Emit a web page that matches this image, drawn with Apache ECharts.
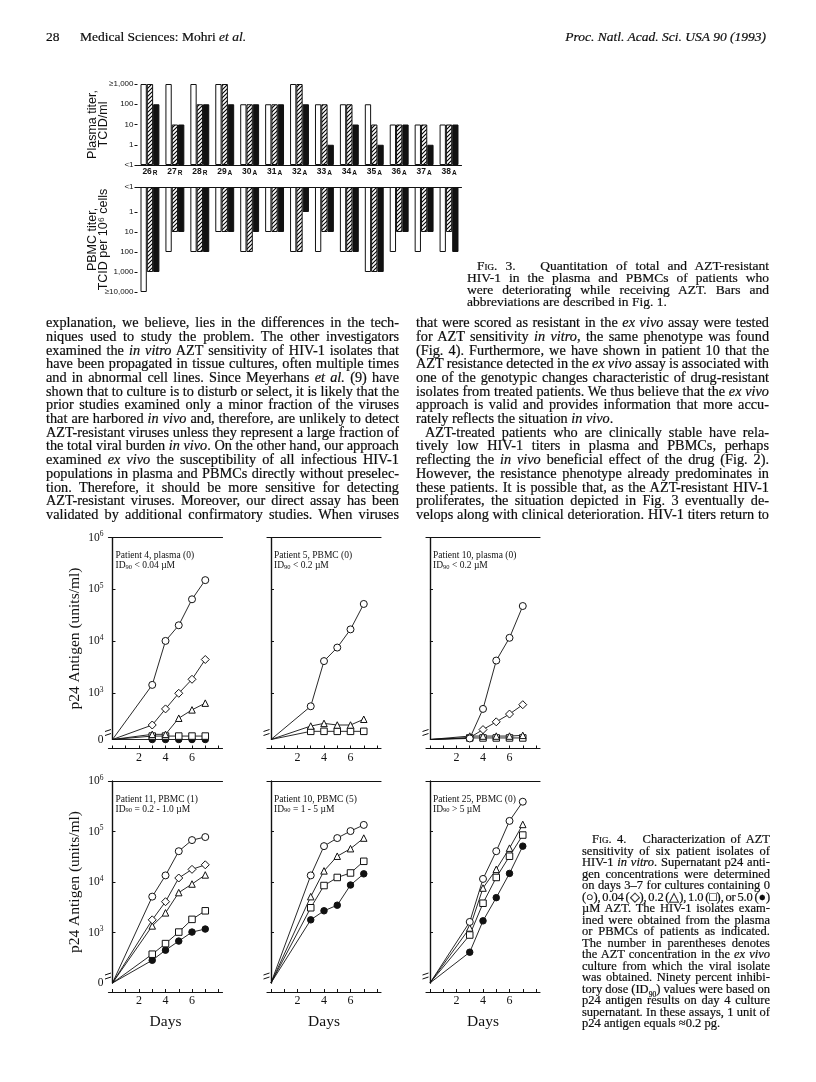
<!DOCTYPE html>
<html><head><meta charset="utf-8">
<script src="https://cdn.jsdelivr.net/npm/echarts@6.0.0/dist/echarts.min.js"></script>
<style>
html,body{margin:0;padding:0;background:#fff;}
#page{position:relative;width:816px;height:1082px;overflow:hidden;background:#fff;}
#chart{position:absolute;left:0;top:0;width:816px;height:1082px;}
.t{position:absolute;font-family:"Liberation Serif","Times New Roman",serif;color:#0d0d0d;white-space:nowrap;-webkit-text-stroke:0.2px #0d0d0d;}
.t span.in{white-space:nowrap;}
.sc{font-variant:small-caps;}
#meas{position:absolute;left:-3000px;top:0;white-space:nowrap;font-family:"Liberation Serif","Times New Roman",serif;}
</style></head><body><div id="page"><div id="chart"></div><div id="txt"></div></div><span id="meas"></span>
<script>
// ---------------- Fig. 3 data ----------------
const fig3Patients = ['26','27','28','29','30','31','32','33','34','35','36','37','38'];
const fig3Groups   = ['R','R','R','A','A','A','A','A','A','A','A','A','A'];
const plasmaTickLabels = ['<1','1','10','100','\u22651,000'];
const pbmcTickLabels   = ['<1','1','10','100','1,000','\u226510,000'];
// TCID/ml
const plasmaOpen    = [1000,1000,1000,1000,100,100,1000,100,100,100,10,10,10];
const plasmaHatched = [1000,10,100,1000,100,100,1000,100,100,10,10,10,10];
const plasmaSolid   = [100,10,100,100,100,100,100,1,10,1,10,1,10];
// TCID per 10^6 cells
const pbmcOpen    = [10000,100,100,10,100,10,100,100,100,1000,100,100,100];
const pbmcHatched = [1000,10,100,10,100,10,100,10,100,1000,10,10,10];
const pbmcSolid   = [1000,10,100,10,10,10,1,10,100,1000,10,10,100];

// ---------------- Fig. 4 data (p24 antigen, units/ml; 0 = below break) ----------------
const days = [0,3,4,5,6,7];
const fig4DecadeExponents = [3,4,5,6];
const pt4Plasma_c0   = [0,1450,10200,20400,64600,151000];
const pt4Plasma_c004 = [0,245,500,1000,1860,4470];
const pt4Plasma_c02  = [0,162,162,331,479,646];
const pt4Plasma_c1   = [0,150,150,150,150,150];
const pt4Plasma_c5   = [0,0,0,0,0,0];

const pt5Pbmc_c0  = [0,562,4170,7590,17000,52500];
const pt5Pbmc_c02 = [0,234,263,245,245,316];
const pt5Pbmc_c1  = [0,185,185,185,185,185];

const pt10Plasma_c0   = [0,135,500,4270,11700,47900];
const pt10Plasma_c004 = [0,140,200,282,398,603];
const pt10Plasma_c02  = [0,150,150,150,150,155];
const pt10Plasma_c1   = [0,138,138,138,138,138];

const pt11Pbmc_c0   = [0,5130,13500,40700,67600,77600];
const pt11Pbmc_c004 = [0,1780,4070,12000,17800,21900];
const pt11Pbmc_c02  = [0,1350,2450,6170,9120,13800];
const pt11Pbmc_c1   = [0,372,603,1020,1820,2690];
const pt11Pbmc_c5   = [0,282,447,676,1020,1170];

const pt10Pbmc_c0  = [0,13500,51300,74100,102000,135000];
const pt10Pbmc_c02 = [0,5130,16600,32400,45700,74100];
const pt10Pbmc_c1  = [0,3090,8510,12300,15100,25700];
const pt10Pbmc_c5  = [0,1780,2690,3470,8710,14500];

const pt25Pbmc_c0  = [0,1620,11500,40700,162000,389000];
const pt25Pbmc_c02 = [0,1230,7590,17800,46800,138000];
const pt25Pbmc_c1  = [0,891,3800,12300,32400,85100];
const pt25Pbmc_c5  = [0,407,1700,4900,14800,51300];

const panelTitles = [
  ['Patient 4, plasma (0)','< 0.04 \u00b5M'],
  ['Patient 5, PBMC (0)','< 0.2 \u00b5M'],
  ['Patient 10, plasma (0)','< 0.2 \u00b5M'],
  ['Patient 11, PBMC (1)','= 0.2 - 1.0 \u00b5M'],
  ['Patient 10, PBMC (5)','= 1 - 5 \u00b5M'],
  ['Patient 25, PBMC (0)','> 5 \u00b5M']
];

// ---------------- layout / styles ----------------
const SANS = '"Liberation Sans", Arial, sans-serif';
const SERIF = '"Liberation Serif", "Times New Roman", serif';
const INK = '#111';

const conc = {
  c0:   {symbol:'circle',   size:7,   fill:'#fff'},
  c004: {symbol:'diamond',  size:8,   fill:'#fff'},
  c02:  {symbol:'triangle', size:6.5, fill:'#fff'},
  c1:   {symbol:'rect',     size:6.5, fill:'#fff'},
  c5:   {symbol:'circle',   size:6.5, fill:INK}
};
const panels = [
  {row:0,col:0,series:{c0:pt4Plasma_c0,c004:pt4Plasma_c004,c02:pt4Plasma_c02,c1:pt4Plasma_c1,c5:pt4Plasma_c5}},
  {row:0,col:1,series:{c0:pt5Pbmc_c0,c02:pt5Pbmc_c02,c1:pt5Pbmc_c1}},
  {row:0,col:2,series:{c0:pt10Plasma_c0,c004:pt10Plasma_c004,c02:pt10Plasma_c02,c1:pt10Plasma_c1}},
  {row:1,col:0,series:{c0:pt11Pbmc_c0,c004:pt11Pbmc_c004,c02:pt11Pbmc_c02,c1:pt11Pbmc_c1,c5:pt11Pbmc_c5}},
  {row:1,col:1,series:{c0:pt10Pbmc_c0,c02:pt10Pbmc_c02,c1:pt10Pbmc_c1,c5:pt10Pbmc_c5}},
  {row:1,col:2,series:{c0:pt25Pbmc_c0,c02:pt25Pbmc_c02,c1:pt25Pbmc_c1,c5:pt25Pbmc_c5}}
];
const ROWS = [{top:537.5, zero:2.11},{top:781, zero:2.0}];
const COLS = [108.5, 267, 426];
const PW = 114, PH = 202;

function hatchCanvas(){
  const c=document.createElement('canvas'); c.width=4; c.height=4;
  const g=c.getContext('2d'); g.fillStyle='#fff'; g.fillRect(0,0,4,4);
  g.strokeStyle='#000'; g.lineWidth=1.1; g.beginPath();
  g.moveTo(0,4); g.lineTo(4,0); g.moveTo(-1,1); g.lineTo(1,-1); g.moveTo(3,5); g.lineTo(5,3);
  g.stroke(); return c;
}
const hatch = {image: hatchCanvas(), repeat:'repeat'};

const option = {animation:false, grid:[], xAxis:[], yAxis:[], series:[], graphic:[]};

// ----- Fig 3 -----
const catNames = fig3Patients.map((p,i)=>p+fig3Groups[i]);
option.grid.push({left:137.5, top:84, width:324, height:81});
option.grid.push({left:137.5, top:187, width:324, height:105});
option.xAxis.push({gridIndex:0, type:'category', data:catNames,
  axisLine:{lineStyle:{color:INK,width:1.2}}, axisTick:{show:false},
  axisLabel:{interval:0, margin:2, formatter:(v,i)=>'{n|'+fig3Patients[i]+'}{s|'+fig3Groups[i]+'}',
    rich:{n:{fontFamily:SANS,fontWeight:'bold',fontSize:8.5,color:INK,lineHeight:10},
          s:{fontFamily:SANS,fontWeight:'bold',fontSize:6.5,color:INK,verticalAlign:'bottom',lineHeight:8,padding:[3,0,0,1]}}}});
option.xAxis.push({gridIndex:1, type:'category', data:catNames, position:'top',
  axisLine:{lineStyle:{color:INK,width:1.2}}, axisTick:{show:false}, axisLabel:{show:false}});
option.yAxis.push({gridIndex:0, type:'value', min:0, max:4, interval:1,
  axisLine:{show:false}, splitLine:{show:false},
  axisTick:{show:true, length:3, lineStyle:{color:INK}},
  axisLabel:{fontFamily:SANS, fontSize:8, color:INK, margin:4, formatter:v=>plasmaTickLabels[Math.round(v)]},
  name:'Plasma titer,\nTCID/ml', nameLocation:'middle', nameRotate:90, nameGap:28, nameMoveOverlap:false,
  nameTextStyle:{fontFamily:SANS, fontSize:12.5, color:INK, lineHeight:11.5}});
const pbmcPos = [0,1.25,2.25,3.25,4.25,5.25];
option.yAxis.push({gridIndex:1, type:'value', min:0, max:5.25, inverse:true,
  axisLine:{show:false}, splitLine:{show:false},
  axisTick:{show:true, length:3, customValues:pbmcPos, lineStyle:{color:INK}},
  axisLabel:{fontFamily:SANS, fontSize:8, color:INK, margin:4, customValues:pbmcPos,
    formatter:v=>pbmcTickLabels[pbmcPos.findIndex(p=>Math.abs(p-v)<1e-6)]},
  name:'PBMC titer,\nTCID per 10\u2076 cells', nameLocation:'middle', nameRotate:90, nameGap:28, nameMoveOverlap:false,
  nameTextStyle:{fontFamily:SANS, fontSize:12.5, color:INK, lineHeight:11.5}});
function bar(data, axis, color, offset){
  return {type:'bar', xAxisIndex:axis, yAxisIndex:axis, data:data.map(v=>Math.log10(v)+offset),
    barWidth:6.3, barGap:'0%', itemStyle:{color:color, borderColor:INK, borderWidth:1}};
}
option.series.push(bar(plasmaOpen,0,'#fff',1), bar(plasmaHatched,0,hatch,1), bar(plasmaSolid,0,INK,1));
option.series.push(bar(pbmcOpen,1,'#fff',1.25), bar(pbmcHatched,1,hatch,1.25), bar(pbmcSolid,1,INK,1.25));

// ----- Fig 4 -----
panels.forEach((p,pi)=>{
  const gi = option.grid.length;
  const R = ROWS[p.row], L = COLS[p.col];
  const Z = R.zero;
  option.grid.push({left:L, top:R.top, width:PW, height:PH});
  const toY = v => v===0 ? Z : Math.log10(v);
  const xb = option.xAxis.length;
  option.xAxis.push({gridIndex:gi, type:'value', min:-0.3, max:8.3, position:'bottom', offset:9,
    axisLine:{lineStyle:{color:INK,width:1.2}}, splitLine:{show:false},
    axisTick:{show:true, inside:true, length:3, customValues:[0,1,2,3,4,5,6,7,8], lineStyle:{color:INK}},
    axisLabel:{customValues:[2,4,6], fontFamily:SERIF, fontSize:12, color:INK, margin:3},
    name: p.row===1 ? 'Days' : '', nameLocation:'middle', nameGap:22, nameMoveOverlap:false,
    nameTextStyle:{fontFamily:SERIF, fontSize:15.5, color:INK}});
  option.xAxis.push({gridIndex:gi, type:'value', min:-0.3, max:8.3, position:'top',
    axisLine:{lineStyle:{color:INK,width:1.2}}, axisTick:{show:false}, axisLabel:{show:false}, splitLine:{show:false}});
  const yl = option.yAxis.length;
  const labVals = [Z].concat(fig4DecadeExponents);
  option.yAxis.push({gridIndex:gi, type:'value', min:Z, max:6, position:'left',
    axisLine:{lineStyle:{color:INK,width:1.2}}, splitLine:{show:false},
    axisTick:{show:true, inside:true, length:3, customValues:[3,4,5], lineStyle:{color:INK}},
    axisLabel:{show:p.col===0, customValues:labVals, margin:5,
      formatter:v=> Math.abs(v-Z)<1e-6 ? '{b|0}' : '{b|10}{s|'+Math.round(v)+'}',
      rich:{b:{fontFamily:SERIF,fontSize:11.5,color:INK,lineHeight:14},
            s:{fontFamily:SERIF,fontSize:7.5,color:INK,verticalAlign:'top',lineHeight:14}}},
    name: p.col===0 ? 'p24 Antigen (units/ml)' : '', nameLocation:'middle', nameRotate:90, nameGap:26, nameMoveOverlap:false,
    nameTextStyle:{fontFamily:SERIF, fontSize:15.5, color:INK}});
  option.yAxis.push({gridIndex:gi, type:'value', min:Z, max:6, position:'right',
    axisLine:{lineStyle:{color:INK,width:1.2}}, axisTick:{show:false}, axisLabel:{show:false}, splitLine:{show:false}});
  ['c5','c1','c02','c004','c0'].forEach(k=>{
    const arr = p.series[k]; if(!arr) return;
    const st = conc[k];
    option.series.push({type:'line', xAxisIndex:xb, yAxisIndex:yl,
      data: days.map((d,i)=> i===0 ? {value:[d,toY(arr[i])], symbol:'none'} : [d,toY(arr[i])]),
      symbol:st.symbol, symbolSize:st.size, showAllSymbol:true,
      lineStyle:{color:INK,width:0.9}, itemStyle:{color:st.fill, borderColor:INK, borderWidth:1}});
  });
  option.graphic.push({type:'text', left:L+7, top:R.top+13, z:10,
    style:{text:'{a|'+panelTitles[pi][0]+'}\n{a|ID}{u|90}{a| '+panelTitles[pi][1]+'}',
      rich:{a:{fontFamily:SERIF,fontSize:9.5,fill:INK,lineHeight:10},
            u:{fontFamily:SERIF,fontSize:6.5,fill:INK,verticalAlign:'bottom',lineHeight:9}}}});
});

const chart = echarts.init(document.getElementById('chart'), null, {renderer:'canvas'});
chart.setOption(option);

// axis break marks on the left border of each Fig. 4 panel
const breaks = [];
panels.forEach((p,pi)=>{
  const gi = 2+pi;
  const pt = chart.convertToPixel({gridIndex:gi}, [-0.3, ROWS[p.row].zero]);
  const x = pt[0], y = pt[1];
  breaks.push({type:'rect', shape:{x:x-2, y:y-9, width:4, height:4}, style:{fill:'#fff'}, z:20});
  breaks.push({type:'line', shape:{x1:x-3.5, y1:y-8, x2:x+2.5, y2:y-10}, style:{stroke:INK, lineWidth:1}, z:21});
  breaks.push({type:'line', shape:{x1:x-3.5, y1:y-4, x2:x+2.5, y2:y-6}, style:{stroke:INK, lineWidth:1}, z:21});
});
chart.setOption({graphic: option.graphic.concat(breaks)});

// ---------------- page text ----------------
const txt = document.getElementById('txt');
const meas = document.getElementById('meas');
function natural(html, size){ meas.style.fontSize=size+'px'; meas.innerHTML=html; return meas.getBoundingClientRect().width; }
function spaceCount(s){ return (s.match(/[ \u00a0]/g)||[]).length; }
function put(html, left, centerY, size, opts){
  opts = opts || {};
  const lh = opts.lh || size*1.15;
  const d = document.createElement('div'); d.className='t';
  d.style.left = left+'px'; d.style.top = (centerY-lh/2)+'px';
  d.style.fontSize = size+'px'; d.style.lineHeight = lh+'px';
  if(opts.italic) d.style.fontStyle='italic';
  const s = document.createElement('span'); s.className='in'; s.innerHTML = html; d.appendChild(s);
  txt.appendChild(d);
  if(opts.width){
    let nat = s.getBoundingClientRect().width;
    const chars = s.textContent.length;
    const spaces = spaceCount(s.textContent);
    if(opts.justify || nat>opts.width){
      let ws = spaces>0 ? (opts.width-nat)/spaces : 0;
      if(ws < -1.2){
        const ls = (opts.width - nat + 1.2*spaces)/chars;
        s.style.letterSpacing = ls+'px';
        nat = s.getBoundingClientRect().width;
        ws = spaces>0 ? (opts.width-nat)/spaces : 0;
      }
      s.style.wordSpacing = ws+'px';
    }
  }
  if(opts.right){ d.style.left = (opts.right - s.getBoundingClientRect().width)+'px'; }
  return d;
}
function fitSize(lines, width){
  const r = lines.filter(l=>!l.last).map(l=>(width-(l.indent||0))/natural(l.h,20)*20).sort((a,b)=>a-b);
  return r[Math.min(1, r.length-1)];
}
function block(lines, left, width, y0, lh, maxSize){
  const size = Math.min(maxSize, fitSize(lines, width));
  lines.forEach((ln,i)=>{
    const ind = ln.indent||0;
    put(ln.h, left+ind, y0+i*lh, size, {lh:lh, width:width-ind, justify:!ln.last});
  });
}
// header
put('28', 46, 37, 13.5);
put('Medical Sciences: Mohri <i>et al.</i>', 80, 37, 13.5);
put('Proc. Natl. Acad. Sci. USA 90 (1993)', 0, 37, 13.5, {italic:true, right:766});

const leftCol = [
 {h:'explanation, we believe, lies in the differences in the tech-'},
 {h:'niques used to study the problem. The other investigators'},
 {h:'examined the <i>in vitro</i> AZT sensitivity of HIV-1 isolates that'},
 {h:'have been propagated in tissue cultures, often multiple times'},
 {h:'and in abnormal cell lines. Since Meyerhans <i>et al.</i> (9) have'},
 {h:'shown that to culture is to disturb or select, it is likely that the'},
 {h:'prior studies examined only a minor fraction of the viruses'},
 {h:'that are harbored <i>in vivo</i> and, therefore, are unlikely to detect'},
 {h:'AZT-resistant viruses unless they represent a large fraction of'},
 {h:'the total viral burden <i>in vivo</i>. On the other hand, our approach'},
 {h:'examined <i>ex vivo</i> the susceptibility of all infectious HIV-1'},
 {h:'populations in plasma and PBMCs directly without preselec-'},
 {h:'tion. Therefore, it should be more sensitive for detecting'},
 {h:'AZT-resistant viruses. Moreover, our direct assay has been'},
 {h:'validated by additional confirmatory studies. When viruses'}
];
const rightCol = [
 {h:'that were scored as resistant in the <i>ex vivo</i> assay were tested'},
 {h:'for AZT sensitivity <i>in vitro</i>, the same phenotype was found'},
 {h:'(Fig. 4). Furthermore, we have shown in patient 10 that the'},
 {h:'AZT resistance detected in the <i>ex vivo</i> assay is associated with'},
 {h:'one of the genotypic changes characteristic of drug-resistant'},
 {h:'isolates from treated patients. We thus believe that the <i>ex vivo</i>'},
 {h:'approach is valid and provides information that more accu-'},
 {h:'rately reflects the situation <i>in vivo</i>.', last:true},
 {h:'AZT-treated patients who are clinically stable have rela-', indent:9},
 {h:'tively low HIV-1 titers in plasma and PBMCs, perhaps'},
 {h:'reflecting the <i>in vivo</i> beneficial effect of the drug (Fig. 2).'},
 {h:'However, the resistance phenotype already predominates in'},
 {h:'these patients. It is possible that, as the AZT-resistant HIV-1'},
 {h:'proliferates, the situation depicted in Fig. 3 eventually de-'},
 {h:'velops along with clinical deterioration. HIV-1 titers return to'}
];
const bodySize = Math.min(fitSize(leftCol,353), fitSize(rightCol,353), 15);
block(leftCol, 46, 353, 323, 13.7, bodySize);
block(rightCol, 416, 353, 323, 13.7, bodySize);

const cap3 = [
 {h:'<span class="sc">Fig. 3.</span>\u00a0\u00a0 Quantitation of total and AZT-resistant', indent:10},
 {h:'HIV-1 in the plasma and PBMCs of patients who'},
 {h:'were deteriorating while receiving AZT. Bars and'},
 {h:'abbreviations are described in Fig. 1.', last:true}
];
block(cap3, 467, 302, 266, 11.8, 13.5);

const cap4 = [
 {h:'<span class="sc">Fig. 4.</span>\u00a0\u00a0 Characterization of AZT', indent:10},
 {h:'sensitivity of six patient isolates of'},
 {h:'HIV-1 <i>in vitro</i>. Supernatant p24 anti-'},
 {h:'gen concentrations were determined'},
 {h:'on days 3\u20137 for cultures containing 0'},
 {h:'(\u25cb), 0.04 (\u25c7), 0.2 (\u25b3), 1.0 (\u25a1), or 5.0 (\u25cf)'},
 {h:'\u00b5M AZT. The HIV-1 isolates exam-'},
 {h:'ined were obtained from the plasma'},
 {h:'or PBMCs of patients as indicated.'},
 {h:'The number in parentheses denotes'},
 {h:'the AZT concentration in the <i>ex vivo</i>'},
 {h:'culture from which the viral isolate'},
 {h:'was obtained. Ninety percent inhibi-'},
 {h:'tory dose (ID<sub style="font-size:0.6em;line-height:0">90</sub>) values were based on'},
 {h:'p24 antigen results on day 4 culture'},
 {h:'supernatant. In these assays, 1 unit of'},
 {h:'p24 antigen equals \u22480.2 pg.', last:true}
];
block(cap4, 582, 188, 840, 11.5, 13.5);
</script></body></html>
